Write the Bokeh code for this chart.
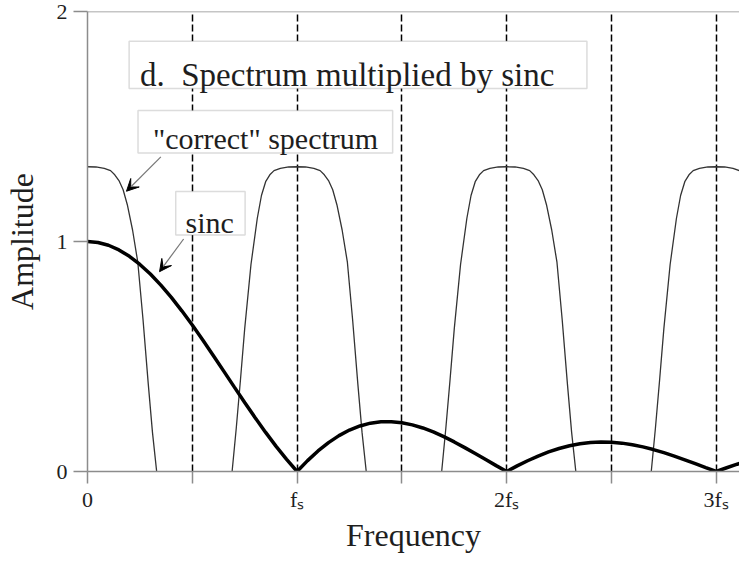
from bokeh.plotting import figure
from bokeh.models import Range1d, FixedTicker, Span, BoxAnnotation, Label, Arrow, VeeHead
from bokeh.embed import file_html
from bokeh.resources import INLINE

# ---- data ----
lobe_centers = [0, 1, 2, 3]
lobe_offsets = [-0.31, -0.29, -0.27, -0.25, -0.22, -0.19, -0.17, -0.15, -0.13, -0.11, -0.08, -0.04, 0.0,
                0.04, 0.08, 0.11, 0.13, 0.15, 0.17, 0.19, 0.215, 0.24, 0.265, 0.29, 0.31, 0.33]
lobe_values = [0.0, 0.19, 0.40, 0.62, 0.90, 1.10, 1.20, 1.26, 1.29, 1.308, 1.318, 1.324, 1.325,
               1.324, 1.318, 1.308, 1.29, 1.265, 1.225, 1.16, 1.05, 0.91, 0.66, 0.38, 0.17, 0.0]

sinc_freq = [0.0, 0.05, 0.1, 0.15, 0.2, 0.25, 0.3, 0.35, 0.4, 0.45, 0.5, 0.55, 0.6, 0.65, 0.7,
             0.75, 0.8, 0.85, 0.9, 0.95, 1.0, 1.05, 1.1, 1.15, 1.2, 1.25, 1.3, 1.35, 1.4, 1.45,
             1.5, 1.55, 1.6, 1.65, 1.7, 1.75, 1.8, 1.85, 1.9, 1.95, 2.0, 2.05, 2.1, 2.15, 2.2,
             2.25, 2.3, 2.35, 2.4, 2.45, 2.5, 2.55, 2.6, 2.65, 2.7, 2.75, 2.8, 2.85, 2.9, 2.95,
             3.0, 3.05, 3.1, 3.15]
sinc_amp = [1.0, 0.9959, 0.9836, 0.9634, 0.9355, 0.9003, 0.8584, 0.8103, 0.7568, 0.6987,
            0.6366, 0.5716, 0.5046, 0.4363, 0.3679, 0.3001, 0.2339, 0.1700, 0.1093, 0.0524,
            0.0, 0.0474, 0.0894, 0.1257, 0.1559, 0.1801, 0.1981, 0.2101, 0.2162, 0.2168,
            0.2122, 0.2028, 0.1892, 0.1719, 0.1515, 0.1286, 0.1039, 0.0781, 0.0518, 0.0255,
            0.0, 0.0243, 0.0468, 0.0672, 0.0850, 0.1000, 0.1120, 0.1207, 0.1261, 0.1283,
            0.1273, 0.1233, 0.1164, 0.1070, 0.0954, 0.0819, 0.0668, 0.0507, 0.0339, 0.0169,
            0.0, 0.0163, 0.0317, 0.0459]

x_ticks = [0, 1, 2, 3]
x_minor_ticks = [0.5, 1.5, 2.5]
x_tick_labels = ["0", "f\u209b", "2f\u209b", "3f\u209b"]
grid_positions = [0.5, 1.0, 1.5, 2.0, 2.5, 3.0]
y_ticks = [0, 1, 2]

FONT = "Liberation Serif"
GRAY = "#8c8c8c"
TXT = "#1e1e1e"

p = figure(width=739, height=555, output_backend="svg", toolbar_location=None,
           x_range=Range1d(0, 3.111), y_range=Range1d(0, 2),
           min_border_left=81, min_border_right=0, min_border_top=11, min_border_bottom=78)
p.outline_line_color = None
p.background_fill_color = "white"
p.border_fill_color = "white"

# axes
p.xaxis.ticker = FixedTicker(ticks=x_ticks, minor_ticks=x_minor_ticks)
p.xaxis.major_label_overrides = {float(t): lab for t, lab in zip(x_ticks, x_tick_labels)}
p.yaxis.ticker = FixedTicker(ticks=y_ticks)
for ax in (p.xaxis[0], p.yaxis[0]):
    ax.axis_line_color = GRAY
    ax.axis_line_width = 1.5
    ax.major_tick_line_color = GRAY
    ax.major_tick_line_width = 1.5
    ax.major_tick_in = 0
    ax.major_label_text_font = FONT
    ax.major_label_text_font_size = "22px"
    ax.major_label_text_color = TXT
    ax.axis_label_text_font = FONT
    ax.axis_label_text_font_size = "32px"
    ax.axis_label_text_font_style = "normal"
    ax.axis_label_text_color = TXT
p.xaxis.major_tick_out = 12
p.xaxis.minor_tick_out = 12
p.xaxis.minor_tick_in = 0
p.xaxis.minor_tick_line_color = GRAY
p.xaxis.minor_tick_line_width = 1.5
p.xaxis.major_label_standoff = 3
p.xaxis.axis_label = "Frequency"
p.xaxis.axis_label_standoff = 2
p.yaxis.major_tick_out = 14
p.yaxis.minor_tick_line_color = None
p.yaxis.major_label_standoff = 6
p.yaxis.axis_label = "Amplitude"
p.yaxis.axis_label_standoff = 14

# grid
p.ygrid.grid_line_color = None
p.xgrid.ticker = FixedTicker(ticks=grid_positions)
p.xgrid.grid_line_color = "black"
p.xgrid.grid_line_width = 1.5
p.xgrid.grid_line_dash = "7 3"

p.add_layout(Span(location=2, dimension="width", line_color=GRAY, line_width=1.5))

# "correct" spectrum lobes
xs = [[c + o for o in lobe_offsets] for c in lobe_centers]
ys = [list(lobe_values) for _ in lobe_centers]
p.multi_line(xs, ys, line_color="#333333", line_width=1.3)

# sinc
p.line(sinc_freq, sinc_amp, line_color="black", line_width=3.5)

# annotation boxes
def box(l, r, t, b):
    p.add_layout(BoxAnnotation(left=l, right=r, top=t, bottom=b, fill_color="white",
                               fill_alpha=1.0, line_color=GRAY, line_width=1.5))

box(0.1986, 2.383, 1.871, 1.665)
p.add_layout(Label(x=0.2506, y=1.725, text="d.\u00a0 Spectrum multiplied by sinc",
                   text_font=FONT, text_font_size="33px", text_color=TXT,
                   text_baseline="alphabetic"))
box(0.241, 1.456, 1.570, 1.385)
p.add_layout(Label(x=0.312, y=1.448, text="\"correct\" spectrum",
                   text_font=FONT, text_font_size="30px", text_color=TXT,
                   text_baseline="alphabetic"))
box(0.421, 0.752, 1.217, 1.028)
p.add_layout(Label(x=0.468, y=1.0826, text="sinc",
                   text_font=FONT, text_font_size="30px", text_color=TXT,
                   text_baseline="alphabetic"))

# arrows
p.add_layout(Arrow(x_start=0.350, y_start=1.368, x_end=0.186, y_end=1.2185,
                   line_color="#777777", line_width=1.2,
                   end=VeeHead(size=12, fill_color="black", line_color="black", line_width=1)))
p.add_layout(Arrow(x_start=0.4586, y_start=1.0108, x_end=0.3437, y_end=0.8688,
                   line_color="#777777", line_width=1.2,
                   end=VeeHead(size=12, fill_color="black", line_color="black", line_width=1)))

open("out.html", "w").write(file_html(p, INLINE))
